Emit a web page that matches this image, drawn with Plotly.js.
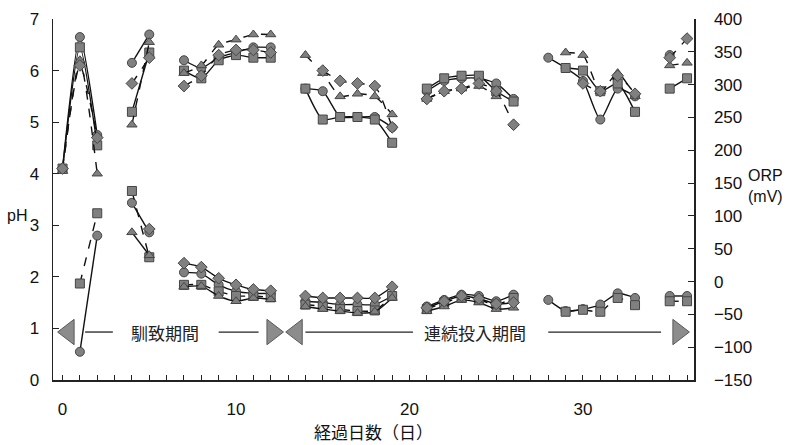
<!DOCTYPE html>
<html>
<head>
<meta charset="utf-8">
<script src="https://cdn.plot.ly/plotly-3.0.1.min.js"></script>
<style>body{margin:0;background:#fff}#chart{width:787px;height:445px}</style>
</head>
<body>
<div id="chart"></div>
<script>
// day index 0..36 (null = no measurement)
const days = [0,1,2,3,4,5,6,7,8,9,10,11,12,13,14,15,16,17,18,19,20,21,22,23,24,25,26,27,28,29,30,31,32,33,34,35,36];
const _ = null;
// pH (left axis)
const phCircle   = [4.1,6.65,4.75,_,6.15,6.7,_,6.2,6.05,6.25,6.35,6.45,6.45,_,5.65,5.6,5.1,5.1,5.1,4.9,_,5.6,5.8,5.85,5.85,5.75,5.45,_,6.25,6.05,5.8,5.05,5.65,5.5,_,6.3,_];
const phSquare   = [4.1,6.45,4.55,_,5.2,6.35,_,6.0,5.85,6.2,6.3,6.25,6.25,_,5.65,5.05,5.1,5.1,5.05,4.6,_,5.65,5.85,5.9,5.9,5.6,5.4,_,_,6.05,6.0,5.6,5.75,5.2,_,5.65,5.85];
const phTriangle = [4.05,6.2,4.0,_,4.95,6.55,_,5.95,6.1,6.5,6.6,6.7,6.7,_,6.3,5.95,5.5,5.55,5.5,5.15,_,5.45,5.6,5.65,5.7,5.5,_,_,_,6.35,6.3,5.6,5.95,5.5,_,6.1,6.15];
const phDiamond  = [4.1,6.1,4.7,_,5.75,6.25,_,5.7,5.9,6.3,6.4,6.4,6.35,_,_,6.0,5.8,5.75,5.7,4.9,_,5.45,5.6,5.65,5.75,5.6,4.95,_,_,_,5.75,5.6,5.9,5.55,_,6.25,6.62];
// ORP mV (right axis)
const orpCircle   = [_,-107,70,_,120,75,_,14,12,-5,-15,-18,-18,_,-30,-32,-35,-35,-35,-22,_,-38,-28,-20,-22,-30,-20,_,-28,-45,-42,-35,-18,-25,_,-22,-22];
const orpSquare   = [_,-3,104,_,138,37,_,-5,-5,-15,-22,-22,-24,_,-35,-38,-42,-45,-44,-22,_,-42,-32,-25,-28,-35,-25,_,_,-46,-43,-46,-25,-36,_,-30,-30];
const orpTriangle = [_,_,_,_,75,40,_,-8,-7,-22,-30,-25,-27,_,-38,-42,-45,-48,-46,-25,_,-45,-38,-28,-32,-42,-40,_,_,_,_,_,_,_,_,_,_];
const orpDiamond  = [_,_,_,_,_,80,_,28,22,5,-5,-12,-14,_,-22,-25,-25,-25,-25,-8,_,-40,-30,-22,-26,-34,-32,_,_,_,_,_,_,_,_,_,_];
// period labels
const periodLabels = ['馴致期間','連続投入期間'];
const periodCenters = [5.9, 23.8];
const arrowLeftX = [0.35, 13.5];
const arrowRightX = [12.1, 35.5];
const periodLevel = 0.93;

const mk = (sym) => ({symbol: sym, size: 9, color: '#808080', line: {color: '#454545', width: 1}});
function tr(y, sym, dash, axis) {
  return {x: days, y: y, type: 'scatter', mode: 'lines+markers', yaxis: axis,
    connectgaps: false, line: {color: '#111', width: 1.4, dash: dash, shape: 'spline', smoothing: 0.6},
    marker: mk(sym), hoverinfo: 'none', showlegend: false};
}
const data = [
  tr(phCircle, 'circle', 'solid', 'y'),
  tr(phSquare, 'square', 'solid', 'y'),
  tr(phTriangle, 'triangle-up', 'dash', 'y'),
  tr(phDiamond, 'diamond', 'dash', 'y'),
  tr(orpCircle, 'circle', 'solid', 'y2'),
  tr(orpSquare, 'square', 'dash', 'y2'),
  tr(orpTriangle, 'triangle-up', 'solid', 'y2'),
  tr(orpDiamond, 'diamond', 'solid', 'y2'),
  {x: arrowLeftX, y: arrowLeftX.map(() => periodLevel), type: 'scatter', mode: 'markers', yaxis: 'y',
   marker: {symbol: 'triangle-left', size: 22, color: '#8c8c8c', line: {color: '#5a5a5a', width: 1}}, showlegend: false, hoverinfo: 'none'},
  {x: arrowRightX, y: arrowRightX.map(() => periodLevel), type: 'scatter', mode: 'markers', yaxis: 'y',
   marker: {symbol: 'triangle-right', size: 22, color: '#8c8c8c', line: {color: '#5a5a5a', width: 1}}, showlegend: false, hoverinfo: 'none'}
];

const segs = [[1.3, 2.9], [9.0, 11.3], [14.0, 20.2], [28.0, 34.5]];
const shapes = segs.map(s => ({type: 'line', xref: 'x', yref: 'y', x0: s[0], x1: s[1], y0: periodLevel, y1: periodLevel,
  line: {color: '#222', width: 1.3}}));

const tickFont = {family: 'Liberation Sans, Arial, sans-serif', size: 17, color: '#111'};
const layout = {
  width: 787, height: 445,
  margin: {l: 53, r: 93, t: 19, b: 65},
  paper_bgcolor: '#fff', plot_bgcolor: '#fff',
  showlegend: false,
  xaxis: {range: [-0.55, 36.4], tickvals: [0, 10, 20, 30], ticks: 'inside', ticklen: 5, tickcolor: '#222',
    minor: {dtick: 1, ticks: 'inside', ticklen: 5, tickcolor: '#222'},
    showline: true, linecolor: '#222', linewidth: 1.5, showgrid: false, zeroline: false,
    tickfont: tickFont, ticklabelstandoff: 13,
    title: {text: '経過日数（日）', font: {family: 'Noto Sans CJK JP', size: 17, color: '#111'}, standoff: 6}},
  yaxis: {range: [0, 7], dtick: 1, ticks: 'inside', ticklen: 6, tickcolor: '#222',
    showline: true, linecolor: '#222', linewidth: 1.5, showgrid: false, zeroline: false,
    tickfont: tickFont, ticklabelstandoff: 9},
  yaxis2: {range: [-150, 400], dtick: 50, overlaying: 'y', side: 'right', ticks: 'inside', ticklen: 6, tickcolor: '#222',
    showline: true, linecolor: '#222', linewidth: 1.5, showgrid: false, zeroline: false,
    tickfont: tickFont, ticklabelstandoff: 15},
  shapes: shapes,
  annotations: [
    ...periodLabels.map((t, i) => ({x: periodCenters[i], y: periodLevel, xref: 'x', yref: 'y', text: t, showarrow: false,
      font: {family: 'Noto Sans CJK JP', size: 17, color: '#222'}})),
    {text: 'pH', showarrow: false, xref: 'paper', yref: 'paper', xanchor: 'center', yanchor: 'middle',
      font: {family: tickFont.family, size: 16, color: '#111'}},
    {text: 'ORP<br>(mV)', showarrow: false, xref: 'paper', yref: 'paper', xanchor: 'left', yanchor: 'middle',
      font: {family: tickFont.family, size: 16, color: '#111'}}
  ]
};
// place side labels by pixel position
const pw = 787 - 53 - 93, ph = 445 - 19 - 65;
layout.annotations[2].x = (17 - 53) / pw; layout.annotations[2].y = 1 - (215 - 19) / ph;
layout.annotations[3].x = (746 - 53) / pw; layout.annotations[3].y = 1 - (186 - 19) / ph;

Plotly.newPlot('chart', data, layout, {staticPlot: true});
</script>
</body>
</html>
